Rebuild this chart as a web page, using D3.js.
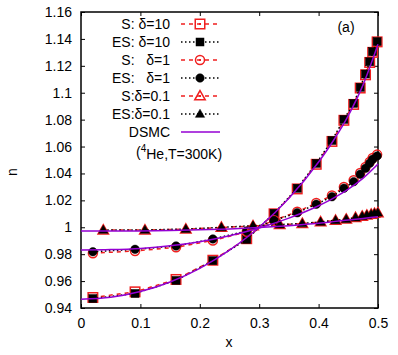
<!DOCTYPE html>
<html>
<head>
<meta charset="utf-8">
<script src="https://cdn.jsdelivr.net/npm/d3@7"></script>
<style>
  body { margin: 0; background: #fff; }
  svg { font-family: "Liberation Sans", Arial, sans-serif; }
</style>
</head>
<body>
<svg id="chart"></svg>
<script>
// grid of the delta=10 and delta=1 runs
const xA = [0.020, 0.091, 0.160, 0.222, 0.279, 0.325, 0.364, 0.396, 0.4225, 0.4426, 0.459, 0.470, 0.479, 0.486, 0.491, 0.4985];
const esD10 = [0.9470, 0.9508, 0.9605, 0.9752, 0.9910, 1.0104, 1.0290, 1.0475, 1.0645, 1.0802, 1.0921, 1.1040, 1.1139, 1.1230, 1.1305, 1.1380];
const sD10  = [0.9478, 0.9520, 0.9612, 0.9755, 0.9915, 1.0100, 1.0285, 1.0468, 1.0638, 1.0795, 1.0913, 1.1035, 1.1133, 1.1225, 1.1300, 1.1378];
const esD1  = [0.9818, 0.9836, 0.9861, 0.9913, 0.9972, 1.0050, 1.0108, 1.0171, 1.0227, 1.0290, 1.0339, 1.0394, 1.0438, 1.0475, 1.0505, 1.0530];
const sD1   = [0.9807, 0.9824, 0.9851, 0.9902, 0.9966, 1.0052, 1.0115, 1.0180, 1.0237, 1.0300, 1.0350, 1.0404, 1.0448, 1.0486, 1.0515, 1.0540];
// grid of the delta=0.1 run
const xB = [0.0375, 0.1076, 0.1765, 0.2364, 0.2896, 0.3345, 0.3726, 0.4034, 0.4286, 0.4465, 0.4622, 0.4734, 0.4812, 0.4885, 0.4941, 0.4997];
const esD01 = [0.9980, 0.9980, 0.9987, 0.9999, 1.0012, 1.0020, 1.0028, 1.0040, 1.0052, 1.0060, 1.0072, 1.0082, 1.0090, 1.0097, 1.0103, 1.0108];
const sD01  = [0.9979, 0.9979, 0.9986, 0.9998, 1.0010, 1.0019, 1.0027, 1.0039, 1.0051, 1.0059, 1.0071, 1.0081, 1.0089, 1.0096, 1.0102, 1.0107];
// DSMC curves
const dsmcX   = [0, 0.05, 0.1, 0.15, 0.2, 0.25, 0.3, 0.35, 0.4, 0.425, 0.45, 0.475, 0.5];
const dsmcD10 = [0.9465, 0.9480, 0.9522, 0.9593, 0.9695, 0.9830, 1.0000, 1.0215, 1.0485, 1.0645, 1.0830, 1.1060, 1.1360];
const dsmcD1  = [0.9831, 0.9834, 0.9843, 0.9862, 0.9893, 0.9937, 0.9995, 1.0068, 1.0160, 1.0216, 1.0283, 1.0365, 1.0470];
const dsmcD01 = [0.9972, 0.9972, 0.9973, 0.9976, 0.9981, 0.9988, 0.9998, 1.0012, 1.0030, 1.0042, 1.0054, 1.0066, 1.0078];

const xTicks = [0, 0.1, 0.2, 0.3, 0.4, 0.5];
const yTicks = [0.94, 0.96, 0.98, 1, 1.02, 1.04, 1.06, 1.08, 1.1, 1.12, 1.14, 1.16];
const legendLabels = ["S: δ=10", "ES: δ=10", "S:   δ=1", "ES:   δ=1", "S:δ=0.1", "ES:δ=0.1", "DSMC"];

const RED = "#f01f1f", PURPLE = "#9400d3";

const margin = { top: 12, right: 20, bottom: 47, left: 81 },
      W = 398, H = 355,
      width = W - margin.left - margin.right,
      height = H - margin.top - margin.bottom;

const svg = d3.select("#chart").attr("width", W).attr("height", H);
const g = svg.append("g").attr("transform", `translate(${margin.left},${margin.top})`);

const x = d3.scaleLinear().domain([0, 0.5]).range([0, width]);
const y = d3.scaleLinear().domain([0.94, 1.16]).range([height, 0]);

// axes: ticks inward on all four sides
const fmt = d => d3.format("")(+d.toFixed(2));
g.append("g").attr("transform", `translate(0,${height})`)
    .call(d3.axisBottom(x).tickValues(xTicks).tickSize(-4).tickPadding(10).tickFormat(fmt));
g.append("g")
    .call(d3.axisLeft(y).tickValues(yTicks).tickSize(-4).tickPadding(9).tickFormat(fmt));
g.append("g")
    .call(d3.axisTop(x).tickValues(xTicks).tickSize(-4).tickFormat(""));
g.append("g").attr("transform", `translate(${width},0)`)
    .call(d3.axisRight(y).tickValues(yTicks).tickSize(-4).tickFormat(""));
g.selectAll(".domain").remove();
g.selectAll(".tick line").attr("stroke", "#000").attr("stroke-width", 1);
g.selectAll(".tick text").attr("fill", "#000").style("font-size", "14px");

g.append("rect").attr("width", width).attr("height", height)
    .attr("fill", "none").attr("stroke", "#000").attr("stroke-width", 1.5);

// markers
function marker(sel, type, style) {
    if (type === "square") {
        const s = style.size;
        sel.append("rect").attr("x", -s / 2).attr("y", -s / 2).attr("width", s).attr("height", s);
    } else if (type === "circle") {
        sel.append("circle").attr("r", style.size / 2);
    } else {
        const s = style.size;
        sel.append("path").attr("d", `M0,${-s * 0.6}L${s * 0.58},${s * 0.42}L${-s * 0.58},${s * 0.42}Z`);
    }
    sel.selectAll("rect,circle,path")
        .attr("fill", style.fill)
        .attr("stroke", style.stroke)
        .attr("stroke-width", style.sw);
    if (style.dot) {
        sel.append("rect").attr("x", -1).attr("y", -1).attr("width", 2).attr("height", 2).attr("fill", style.stroke);
    }
}

const redOpen = s => ({ size: s, fill: "none", stroke: RED, sw: 1.5, dot: true });
const blackFill = s => ({ size: s, fill: "#000", stroke: "#000", sw: 0.5, dot: false });

const series = [
    { xs: xA, ys: sD10,  type: "square",   style: redOpen(9.5),  dash: "4,4",   color: RED },
    { xs: xA, ys: esD10, type: "square",   style: blackFill(8),  dash: "1.5,2.5", color: "#000" },
    { xs: xA, ys: sD1,   type: "circle",   style: redOpen(9),    dash: "4,4",   color: RED },
    { xs: xA, ys: esD1,  type: "circle",   style: blackFill(8.5),dash: "1.5,2.5", color: "#000" },
    { xs: xB, ys: sD01,  type: "triangle", style: redOpen(9),    dash: "4,4",   color: RED },
    { xs: xB, ys: esD01, type: "triangle", style: blackFill(8),  dash: "1.5,2.5", color: "#000" }
];

const line = d3.line().x(d => x(d[0])).y(d => y(d[1]));

series.forEach(s => {
    const pts = s.xs.map((v, i) => [v, s.ys[i]]);
    g.append("path").datum(pts).attr("d", line)
        .attr("fill", "none").attr("stroke", s.color)
        .attr("stroke-width", 1.5).attr("stroke-dasharray", s.dash);
    g.selectAll(null).data(pts).enter().append("g")
        .attr("transform", d => `translate(${x(d[0])},${y(d[1])})`)
        .each(function () { marker(d3.select(this), s.type, s.style); });
});

const smooth = d3.line().x(d => x(d[0])).y(d => y(d[1])).curve(d3.curveMonotoneX);
[dsmcD10, dsmcD1, dsmcD01].forEach(ys => {
    g.append("path").datum(dsmcX.map((v, i) => [v, ys[i]])).attr("d", smooth)
        .attr("fill", "none").attr("stroke", PURPLE).attr("stroke-width", 1.5);
});

// legend
const lg = svg.append("g");
const legendStyles = series.concat([{ color: PURPLE, dash: null }]);
legendLabels.forEach((lab, i) => {
    const yy = 24 + i * 18;
    lg.append("text").attr("x", 170).attr("y", yy).attr("dy", "0.35em")
        .attr("text-anchor", "end").style("font-size", "14px").style("white-space", "pre")
        .attr("xml:space", "preserve").text(lab);
    const s = legendStyles[i];
    lg.append("line").attr("x1", 181).attr("x2", 220).attr("y1", yy).attr("y2", yy)
        .attr("stroke", s.color).attr("stroke-width", 1.5)
        .attr("stroke-dasharray", s.dash);
    if (s.type) {
        const m = lg.append("g").attr("transform", `translate(200,${yy})`);
        marker(m, s.type, s.style);
    }
});
const note = lg.append("text").attr("x", 136).attr("y", 152).attr("dy", "0.35em").style("font-size", "14px");
note.append("tspan").text("(");
note.append("tspan").attr("dy", "-0.45em").style("font-size", "10px").text("4");
note.append("tspan").attr("dy", "0.45em").text("He,T=300K)");

svg.append("text").attr("x", 346).attr("y", 27).attr("dy", "0.35em")
    .attr("text-anchor", "middle").style("font-size", "14px").text("(a)");

// axis titles
svg.append("text").attr("x", 229).attr("y", 347).attr("text-anchor", "middle")
    .style("font-size", "14px").text("x");
svg.append("text").attr("transform", "translate(17,172) rotate(-90)")
    .attr("text-anchor", "middle").style("font-size", "14px").text("n");
</script>
</body>
</html>
